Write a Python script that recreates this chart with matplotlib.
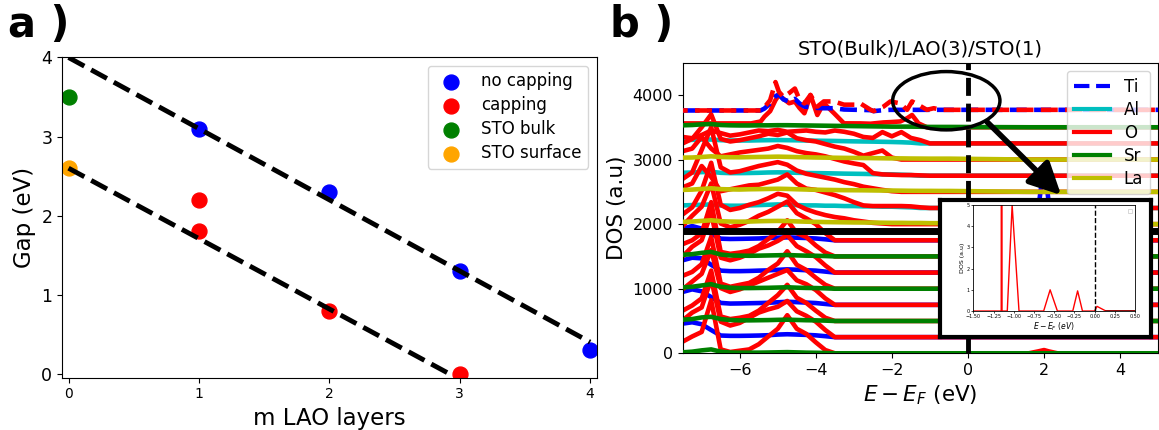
import matplotlib
matplotlib.use('Agg')
import matplotlib.pyplot as plt
from matplotlib.lines import Line2D
from matplotlib.patches import Ellipse, Rectangle

# ---------------- panel a data ----------------
m_nocap = [1, 2, 3, 4]
gap_nocap = [3.1, 2.3, 1.3, 0.3]
m_cap = [1, 1, 2, 3]
gap_cap = [2.2, 1.8, 0.8, 0.0]
m_bulk = [0]
gap_bulk = [3.5]
m_surf = [0]
gap_surf = [2.6]
fit_upper_x = [0, 4]
fit_upper_y = [4.0, 0.4]
fit_lower_x = [0, 2.92]
fit_lower_y = [2.6, 0.0]

# ---------------- panel b data ----------------
E_VB = [-7.5, -7.25, -7.0, -6.75, -6.5, -6.25, -6.0, -5.75, -5.5, -5.25,
        -5.0, -4.75, -4.5, -4.25, -4.0, -3.75, -3.5, -3.25, -3.0, -2.75,
        -2.5, -2.25, -2.0, -1.75, -1.5, -1.25, -1.0, -0.75, -0.5]
E_CB = [1.6, 1.85, 2.0, 2.12, 2.35]
E_END = [5.0]

# STO bulk-like layers (valence band only)
sr_0 = [15, 25, 45, 60, 25, 12, 10, 10, 10, 12, 15, 18, 14, 10, 8, 5, 0]
o_0 = [180, 260, 330, 820, 60, 20, 40, 60, 140, 260, 380, 590, 380, 300, 170, 50, 0]
o_0_cb = [0, 30, 50, 30, 0]
ti_250 = [210, 230, 200, 110, 25, 20, 20, 22, 25, 30, 40, 45, 40, 35, 28, 15, 0]
o_250 = [260, 380, 460, 900, 240, 180, 220, 300, 380, 430, 470, 560, 400, 330, 240, 110, 0]
sr_500 = [20, 30, 55, 65, 30, 15, 10, 10, 12, 14, 18, 20, 16, 12, 10, 6, 0]
o_500 = [160, 240, 350, 780, 70, 30, 50, 80, 160, 280, 400, 560, 360, 280, 160, 50, 0]
ti_750 = [200, 240, 210, 120, 30, 20, 22, 25, 28, 32, 40, 48, 42, 35, 28, 14, 0]
o_750 = [240, 360, 480, 850, 260, 200, 240, 300, 360, 420, 480, 540, 380, 320, 230, 100, 0]
sr_1000 = [20, 30, 50, 70, 30, 15, 10, 10, 12, 14, 18, 22, 16, 12, 10, 6, 0]
o_1000 = [200, 260, 380, 800, 80, 30, 60, 90, 170, 290, 390, 580, 370, 290, 170, 60, 0]
ti_1250 = [190, 230, 220, 120, 30, 22, 22, 25, 30, 34, 42, 50, 44, 36, 30, 15, 0]
o_1250 = [250, 400, 500, 920, 230, 190, 230, 290, 370, 420, 490, 580, 410, 330, 240, 110, 0]
sr_1500 = [25, 35, 55, 70, 30, 15, 12, 10, 12, 15, 18, 22, 16, 12, 10, 6, 0]
o_1500 = [190, 250, 360, 840, 70, 40, 60, 90, 160, 270, 380, 560, 360, 300, 170, 60, 0]
ti_1750 = [180, 220, 180, 100, 25, 20, 22, 25, 28, 35, 40, 45, 40, 35, 28, 15, 0]
ti_1750_cb = [0, 500, 1170, 600, 0]
o_1750 = [220, 380, 520, 880, 260, 200, 240, 300, 380, 440, 520, 600, 420, 340, 250, 110, 0]

# LAO layers
la_2000 = [35, 40, 50, 60, 45, 40, 38, 40, 45, 48, 50, 48, 42, 38, 35, 32, 30, 28, 26, 25, 24, 22, 20, 20, 18, 18, 15, 15, 15]
o_2000 = [150, 260, 520, 950, 300, 220, 250, 300, 340, 400, 470, 440, 300, 230, 180, 140, 110, 90, 60, 40, 20, 10, 0]
al_2250 = [40, 45, 50, 55, 40, 35, 35, 40, 45, 50, 55, 50, 45, 40, 40, 35, 35, 30, 30, 25, 25, 20, 20, 15, 10, 0]
o_2250 = [320, 380, 650, 480, 260, 290, 320, 350, 360, 400, 440, 520, 380, 300, 280, 240, 200, 150, 90, 40, 30, 30, 30, 30, 25, 10, 0]
la_2500 = [30, 35, 45, 55, 42, 38, 36, 40, 42, 45, 48, 45, 40, 36, 33, 30, 28, 26, 25, 24, 22, 20, 20, 18, 16, 15, 15, 14, 14]
o_2500 = [200, 300, 650, 1000, 380, 300, 320, 360, 400, 430, 460, 420, 330, 280, 250, 220, 190, 150, 120, 80, 55, 30, 10, 0]
al_2750 = [45, 50, 55, 60, 45, 40, 40, 42, 45, 50, 52, 50, 45, 42, 40, 38, 35, 32, 30, 28, 25, 22, 20, 15, 10, 0]
o_2750 = [380, 420, 600, 420, 300, 330, 360, 380, 400, 420, 460, 430, 380, 350, 330, 300, 260, 220, 190, 165, 40, 20, 15, 10, 10, 5, 0]
la_3000 = [30, 32, 40, 50, 40, 36, 35, 38, 40, 42, 45, 42, 38, 35, 32, 30, 28, 26, 25, 24, 22, 20, 18, 18, 16, 15, 14, 14, 14]
o_3000 = [250, 320, 500, 700, 320, 280, 300, 330, 360, 400, 380, 420, 330, 300, 280, 240, 200, 170, 120, 60, 100, 140, 30, 0]
al_3250 = [50, 55, 60, 60, 50, 45, 45, 45, 48, 50, 52, 50, 48, 45, 42, 40, 38, 35, 32, 30, 28, 25, 22, 18, 12, 0]
o_3250 = [100, 80, 130, 200, 160, 120, 140, 170, 200, 190, 210, 180, 190, 200, 180, 170, 200, 180, 150, 100, 85, 175, 110, 175, 85, 50, 0]
sr_3500 = [30, 35, 45, 50, 35, 30, 28, 28, 30, 30, 32, 32, 30, 28, 26, 24, 22, 20, 18, 16, 14, 12, 10, 10, 10, 8, 5, 5, 5]

# top STO capping layer (finer energy grid)
E_TOP = [-7.5, -5.7, -5.45, -5.35, -5.2, -5.06, -4.97, -4.85, -4.7, -4.55, -4.43,
         -4.3, -4.14, -3.96, -3.79, -3.52, -3.26, -2.91, -2.83, -2.56, -2.48,
         -2.22, -2.04, -1.78, -1.6, -1.47, -1.3, -1.08, -0.9, -0.7, 5.0]
o_3500 = [60, 60, 90, 165, 250, 420, 500, 440, 372, 398, 300, 217, 500, 190, 372, 217,
          61, 60, 60, 55, 60, 75, 80, 90, 140, 190, 60, 0, 0, 0, 0]
ti_3750 = [10, 10, 10, 40, 120, 230, 260, 180, 150, 190, 120, 70, 60, 50, 45, 45,
           25, 20, 20, 15, 0, 15, 20, 20, 20, 20, 20, 20, 20, 20, 20]
o_3750 = [10, 10, 10, 60, 170, 450, 300, 220, 280, 350, 180, 120, 250, 70, 150, 150,
          100, 100, 120, 20, 0, 70, 150, 120, 20, 150, 95, 20, 45, 20, 20]

levels = [0, 250, 500, 750, 1000, 1250, 1500, 1750, 2000, 2250, 2500, 2750, 3000, 3250, 3500, 3750]
interface_level = 1900

# inset data
E_INSET = [-1.5, -1.2, -1.155, -1.15, -1.145, -1.08, -1.02, -0.935, -0.63, -0.55,
           -0.46, -0.27, -0.21, -0.15, 0.0, 0.03, 0.14, 0.5]
DOS_INSET = [0, 0, 0, 40, 0, 0, 5.0, 0, 0, 1.0, 0, 0, 0.95, 0, 0, 0.22, 0, 0]
E_INSET_TAIL = [0.14, 0.5]
DOS_INSET_TAIL = [0, 0]

COL = {'Ti': 'b', 'Al': 'c', 'O': 'r', 'Sr': 'g', 'La': 'y'}
LW = 3.3


def full(vals, cb=None):
    """valence-band values on E_VB (zeros beyond the last read value), optional CB values."""
    vb = list(vals) + [0] * (len(E_VB) - len(vals))
    cbv = list(cb) if cb is not None else [0] * len(E_CB)
    return E_VB + E_CB + E_END, vb + cbv + [0]


fig = plt.figure(figsize=(11.59, 4.30), dpi=100)

# ---------------- panel a ----------------
ax1 = fig.add_axes([0.0535, 0.1216, 0.4613, 0.7447])
ax1.plot(fit_upper_x, fit_upper_y, 'k--', lw=3.5, zorder=3)
ax1.plot(fit_lower_x, fit_lower_y, 'k--', lw=3.5, zorder=3)
ax1.scatter(m_nocap, gap_nocap, s=115, color='blue', label='no capping', zorder=2)
ax1.scatter(m_cap, gap_cap, s=115, color='red', label='capping', zorder=2)
ax1.scatter(m_bulk, gap_bulk, s=115, color='green', label='STO bulk', zorder=2)
ax1.scatter(m_surf, gap_surf, s=115, color='orange', label='STO surface', zorder=2)
ax1.set_xlim(-0.05, 4.05)
ax1.set_ylim(-0.05, 4.0)
ax1.set_xticks([0, 1, 2, 3, 4])
ax1.set_yticks([0, 1, 2, 3, 4])
ax1.tick_params(axis='x', labelsize=10)
ax1.tick_params(axis='y', labelsize=12.5)
ax1.set_xlabel('m LAO layers', fontsize=16.5)
ax1.set_ylabel('Gap (eV)', fontsize=16.5)
ax1.legend(loc='upper right', fontsize=12, labelspacing=0.35)

# ---------------- panel b ----------------
ax2 = fig.add_axes([0.589, 0.1784, 0.4103, 0.6758])

stack = [
    # (level, cation, cation values, cation cb, O values, O cb, layer type)
    (levels[0], 'Sr', sr_0, None, o_0, o_0_cb, 'AO'),
    (levels[1], 'Ti', ti_250, None, o_250, None, 'BO2'),
    (levels[2], 'Sr', sr_500, None, o_500, None, 'AO'),
    (levels[3], 'Ti', ti_750, None, o_750, None, 'BO2'),
    (levels[4], 'Sr', sr_1000, None, o_1000, None, 'AO'),
    (levels[5], 'Ti', ti_1250, None, o_1250, None, 'BO2'),
    (levels[6], 'Sr', sr_1500, None, o_1500, None, 'AO'),
    (levels[7], 'Ti', ti_1750, ti_1750_cb, o_1750, None, 'BO2'),
    (levels[8], 'La', la_2000, None, o_2000, None, 'AO'),
    (levels[9], 'Al', al_2250, None, o_2250, None, 'BO2'),
    (levels[10], 'La', la_2500, None, o_2500, None, 'AO'),
    (levels[11], 'Al', al_2750, None, o_2750, None, 'BO2'),
    (levels[12], 'La', la_3000, None, o_3000, None, 'AO'),
    (levels[13], 'Al', al_3250, None, o_3250, None, 'BO2'),
]
for lev, cat, cv, ccb, ov, ocb, kind in stack:
    ex, ey = full(cv, ccb)
    ox, oy = full(ov, ocb)
    cz = 3 if kind == 'AO' else 2
    ax2.plot(ex, [lev + v for v in ey], color=COL[cat], lw=LW, zorder=cz)
    ax2.plot(ox, [lev + v for v in oy], color=COL['O'], lw=LW, zorder=2.5)

# top SrO layer
ex, ey = full(sr_3500)
ax2.plot(E_TOP, [levels[14] + v for v in o_3500], color='r', lw=LW, zorder=2.5)
ax2.plot(ex, [levels[14] + v for v in ey], color='g', lw=LW, zorder=3)
# top TiO2 layer (dashed)
ax2.plot(E_TOP, [levels[15] + v for v in ti_3750], color='b', lw=LW,
         ls=(0, (3.7, 1.6)), zorder=2.6)
ax2.plot(E_TOP, [levels[15] + v for v in o_3750], color='r', lw=LW,
         ls=(2.6, (3.7, 1.6)), zorder=2.7)

ax2.axhline(interface_level, color='k', lw=5, zorder=3.5)
ax2.axvline(0, color='k', ls='--', lw=3.5, zorder=6)

ax2.set_xlim(-7.5, 5.0)
ax2.set_ylim(0, 4500)
ax2.set_xticks([-6, -4, -2, 0, 2, 4])
ax2.set_yticks([0, 1000, 2000, 3000, 4000])
ax2.tick_params(labelsize=11.5)
ax2.set_xlabel(r'$E - E_F$ (eV)', fontsize=15.5)
ax2.set_ylabel('DOS (a.u)', fontsize=15.5)
ax2.set_title('STO(Bulk)/LAO(3)/STO(1)', fontsize=14)

handles = [Line2D([], [], color='b', ls='--', lw=3),
           Line2D([], [], color='c', lw=3),
           Line2D([], [], color='r', lw=3),
           Line2D([], [], color='g', lw=3),
           Line2D([], [], color='y', lw=3)]
leg = ax2.legend(handles, ['Ti', 'Al', 'O', 'Sr', 'La'], loc='upper right',
                 fontsize=12, labelspacing=0.3, handlelength=2.2)
leg.set_zorder(10)

ax2.add_patch(Ellipse((-0.57, 3911), width=2.82, height=903, fill=False,
                      ec='k', lw=2.5, zorder=7))
ax2.annotate('', xy=(2.5, 2420), xytext=(0.45, 3613),
             arrowprops=dict(arrowstyle='-|>', lw=4, color='k', mutation_scale=48),
             annotation_clip=False, zorder=8)

# inset frame and inset axes
frame = fig.add_axes([0.8111, 0.217, 0.1818, 0.3179])
frame.set_xticks([])
frame.set_yticks([])
frame.set_facecolor('white')
for sp in frame.spines.values():
    sp.set_linewidth(3)

axi = fig.add_axes([0.8398, 0.2767, 0.1395, 0.2465])
axi.plot(E_INSET, DOS_INSET, color='r', lw=1)
axi.plot(E_INSET_TAIL, DOS_INSET_TAIL, color='#800000', lw=1.2)
axi.axvline(0, color='k', ls='--', lw=1)
axi.set_xlim(-1.5, 0.5)
axi.set_ylim(0, 5)
axi.set_xticks([-1.5, -1.25, -1.0, -0.75, -0.5, -0.25, 0.0, 0.25, 0.5])
axi.set_xticklabels(['−1.50', '−1.25', '−1.00', '−0.75', '−0.50', '−0.25', '0.00', '0.25', '0.50'])
axi.set_yticks([0, 1, 2, 3, 4, 5])
axi.tick_params(labelsize=3.5, length=1.5, width=0.5, pad=1)
for sp in axi.spines.values():
    sp.set_linewidth(0.6)
axi.set_xlabel(r'$E-E_F\ (eV)$', fontsize=5.5, labelpad=0.5)
axi.set_ylabel('DOS (a.u)', fontsize=4.5, labelpad=1)
axi.add_patch(Rectangle((0.955, 0.925), 0.025, 0.04, transform=axi.transAxes,
                        fill=False, ec='#c8c8c8', lw=0.5))

fig.text(0.007, 1 - 37 / 430, 'a )', fontsize=30, fontweight='bold', va='baseline')
fig.text(0.526, 1 - 37 / 430, 'b )', fontsize=30, fontweight='bold', va='baseline')

fig.savefig('out.png', dpi=100)
